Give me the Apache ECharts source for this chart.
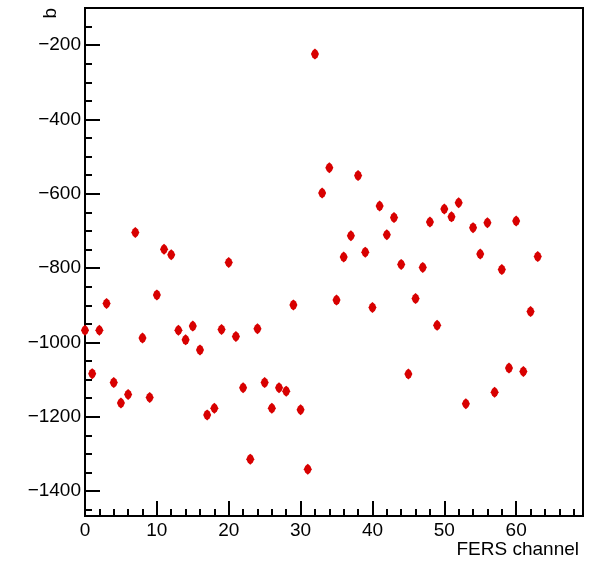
<!DOCTYPE html>
<html>
<head>
<meta charset="utf-8">
<script src="https://cdn.jsdelivr.net/npm/echarts@6/dist/echarts.min.js"></script>
<style>
  html, body { margin: 0; padding: 0; background: #fff; }
  #chart { width: 611px; height: 566px; }
</style>
</head>
<body>
<div id="chart"></div>
<script>
// FERS channel number and fitted parameter b
const channels = [
  0, 1, 2, 3, 4, 5, 6, 7, 8, 9, 10, 11, 12, 13, 14, 15,
  16, 17, 18, 19, 20, 21, 22, 23, 24, 25, 26, 27, 28, 29, 30, 31,
  32, 33, 34, 35, 36, 37, 38, 39, 40, 41, 42, 43, 44, 45, 46, 47,
  48, 49, 50, 51, 52, 53, 54, 55, 56, 57, 58, 59, 60, 61, 62, 63
];
const bValues = [
  -967, -1084, -967, -895, -1108, -1163, -1140, -704, -988, -1148, -872, -749, -764, -967, -993, -956,
  -1020, -1195, -1177, -965, -785, -984, -1122, -1314, -963, -1108, -1177, -1122, -1131, -899, -1181, -1341,
  -224, -598, -530, -886, -770, -713, -551, -757, -906, -633, -710, -664, -790, -1085, -882, -798,
  -676, -954, -641, -662, -624, -1165, -691, -762, -678, -1134, -804, -1069, -673, -1078, -917, -769
];

// axis ranges and tick positions
const xRange = [0, 69.3];
const yRange = [-1467, -100];
const xMajor = [0, 10, 20, 30, 40, 50, 60];
const xMinor = [2, 4, 6, 8, 12, 14, 16, 18, 22, 24, 26, 28, 32, 34, 36, 38, 42, 44, 46, 48, 52, 54, 56, 58, 62, 64, 66, 68];
const yMajor = [-1400, -1200, -1000, -800, -600, -400, -200];
const yMinor = [-1450, -1350, -1300, -1250, -1150, -1100, -1050, -950, -900, -850, -750, -700, -650,
  -550, -500, -450, -350, -300, -250, -150];

const font = 'Liberation Sans, Arial, Helvetica, sans-serif';
const chart = echarts.init(document.getElementById('chart'));

function minus(v) {
  return String(v).replace('-', '\u2212');
}

// fat diamond, like the ROOT marker
const marker = 'path://M0,-5 L2.2,-3 L3.5,0 L2.2,3 L0,5 L-2.2,3 L-3.5,0 L-2.2,-3 Z';

let option = {
  animation: false,
  backgroundColor: '#fff',
  grid: {
    left: 85, top: 8, right: 28, bottom: 50,
    show: true, borderColor: '#000', borderWidth: 2, backgroundColor: 'transparent'
  },
  xAxis: [{
    type: 'value', min: xRange[0], max: xRange[1],
    axisLine: { show: true, onZero: false, lineStyle: { color: '#000', width: 2 } },
    axisTick: { show: true, inside: true, length: 15, customValues: xMajor, lineStyle: { color: '#000', width: 2 } },
    axisLabel: { customValues: xMajor, color: '#000', fontSize: 19, fontFamily: font, margin: 5 },
    splitLine: { show: false }
  }, {
    type: 'value', min: xRange[0], max: xRange[1], position: 'bottom',
    axisLine: { show: false },
    axisTick: { show: true, inside: true, length: 7, customValues: xMinor, lineStyle: { color: '#000', width: 2 } },
    axisLabel: { show: false },
    splitLine: { show: false }
  }],
  yAxis: [{
    type: 'value', min: yRange[0], max: yRange[1],
    axisLine: { show: true, onZero: false, lineStyle: { color: '#000', width: 2 } },
    axisTick: { show: true, inside: true, length: 15, customValues: yMajor, lineStyle: { color: '#000', width: 2 } },
    axisLabel: { customValues: yMajor, color: '#000', fontSize: 19, fontFamily: font, margin: 4, formatter: minus },
    splitLine: { show: false }
  }, {
    type: 'value', min: yRange[0], max: yRange[1], position: 'left',
    axisLine: { show: false },
    axisTick: { show: true, inside: true, length: 7, customValues: yMinor, lineStyle: { color: '#000', width: 2 } },
    axisLabel: { show: false },
    splitLine: { show: false }
  }],
  graphic: [{
    type: 'text', right: 32, top: 540,
    style: { text: 'FERS channel', fill: '#000', font: '19px ' + font }
  }, {
    type: 'text', x: 51, y: 8, rotation: Math.PI / 2,
    style: { text: 'b', fill: '#000', font: '19px ' + font, align: 'right', verticalAlign: 'middle' }
  }],
  series: [{
    type: 'scatter',
    xAxisIndex: 0, yAxisIndex: 0,
    data: channels.map((c, i) => [c, bValues[i]]),
    symbol: marker,
    symbolSize: [8, 11],
    itemStyle: { color: '#d80000', opacity: 1 }
  }]
};
chart.setOption(option);
</script>
</body>
</html>
